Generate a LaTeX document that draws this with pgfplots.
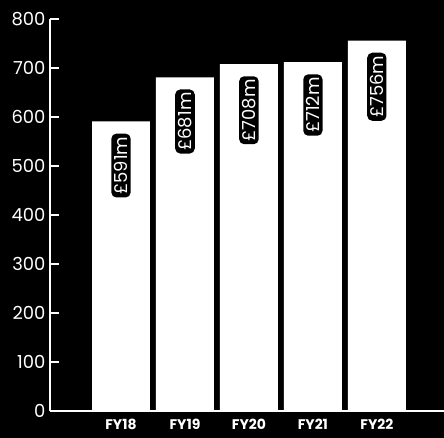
\documentclass[border=0pt]{standalone}
\usepackage{fontspec}
\setmainfont{Poppins}
\usepackage{pgfplots}
\pgfplotsset{compat=1.18}

\begin{document}
\begin{tikzpicture}[x=1bp,y=1bp]
  \fill[black] (0,0) rectangle (444,438);
  \useasboundingbox (0,0) rectangle (444,438);
  \begin{axis}[
      at={(50bp,27bp)}, anchor=south west,
      scale only axis,
      width=394bp, height=392bp,
      xmin=-1.11, xmax=5.05,
      ymin=0, ymax=800,
      axis lines*=left,
      axis line style={white, line width=1.4pt},
      ybar, bar width=0.906,
      xtick={0,1,2,3,4},
      xticklabels={FY18,FY19,FY20,FY21,FY22},
      ytick={0,100,...,800},
      major x tick style={draw=none},
      major y tick style={white, line width=1.2pt},
      major tick length=9bp,
      tick align=inside,
      /pgf/number format/assume math mode=true,
      yticklabel style={white, font=\fontsize{18}{18}\selectfont, xshift=-1bp},
      xticklabel style={white, font=\bfseries\fontsize{14}{14}\selectfont, yshift=-5bp},
      clip=false,
      nodes near coords,
      point meta=explicit symbolic,
      every node near coord/.append style={
          yshift=-12bp, rotate=90, anchor=east,
          fill=black, text=white, rounded corners=5bp,
          inner xsep=3bp, inner ysep=3bp,
          font=\fontsize{18}{18}\selectfont},
    ]
    \addplot[fill=white, draw=none] coordinates {
      (0,591) [\pounds591m]
      (1,681) [\pounds681m]
      (2,708) [\pounds708m]
      (3,712) [\pounds712m]
      (4,756) [\pounds756m]
    };
  \end{axis}
\end{tikzpicture}
\end{document}
